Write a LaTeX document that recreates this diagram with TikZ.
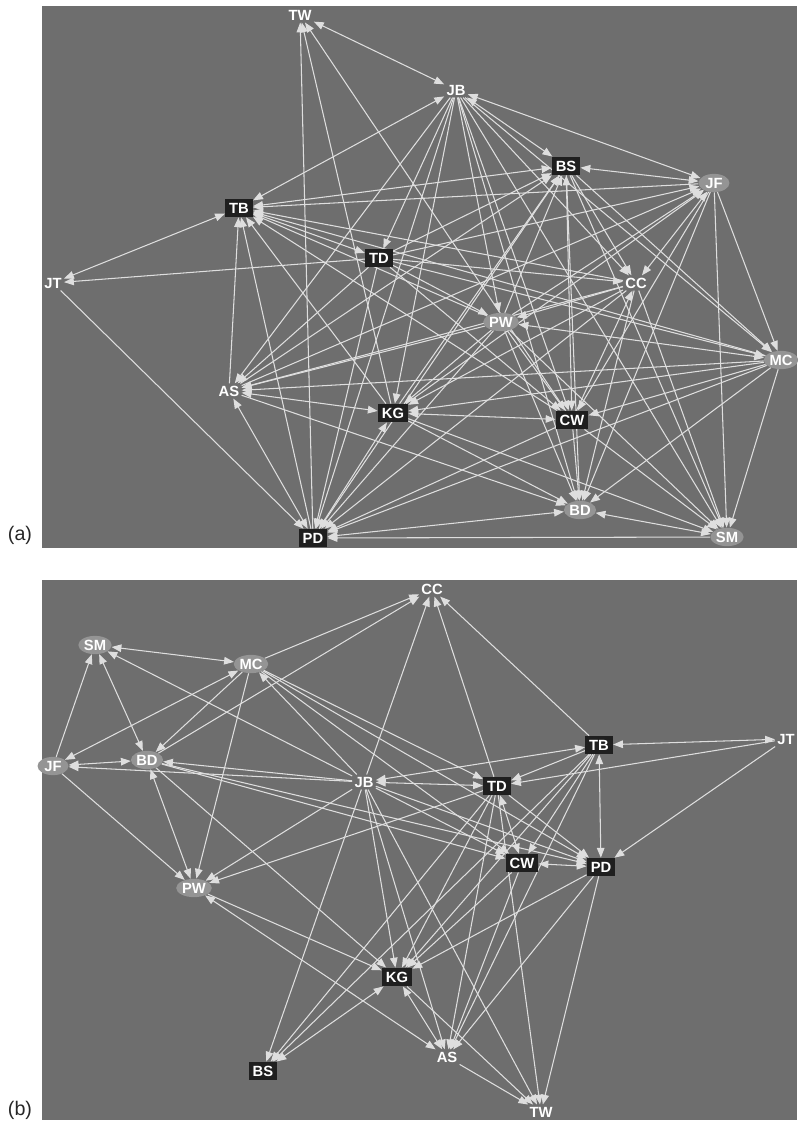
\documentclass[tikz,border=0pt]{standalone}
\usepackage{fontspec}
\setsansfont{Liberation Sans}
\usetikzlibrary{arrows.meta,shapes.geometric}
\pgfdeclarelayer{back}
\pgfdeclarelayer{edges}
\pgfsetlayers{back,edges,main}

\begin{document}
\begin{tikzpicture}[x=0.025cm, y=-0.025cm,
  every node/.style={font=\sffamily\bfseries\fontsize{10.5}{12}\selectfont},
  panel/.style={fill=black!57},
  blackbox/.style={rectangle, fill=black!88, text=white, inner sep=2.8pt},
  greyoval/.style={ellipse, fill=black!42, text=white, inner sep=0.5pt, minimum width=22pt, minimum height=13pt},
  plain/.style={text=white, inner sep=1.5pt},
  link/.style={draw=black!13, line width=0.75pt, >={Triangle[length=7pt,width=5.4pt]}},
  tag/.style={font=\sffamily\fontsize{14}{16}\selectfont, text=black!85}]
				\useasboundingbox (0,0) rectangle (797,1122);
				\begin{pgfonlayer}{back}
					\fill [panel] (42,6) rectangle (797,548);
					\fill [panel] (42,580) rectangle (797,1120);
				\end{pgfonlayer}
				\node (taga) at (20,535) [tag] {(a)};
				\node (tagb) at (20,1110) [tag] {(b)};

				\node (a-tw) at (300,15) [plain] {TW};
				\node (a-jb) at (456,90) [plain] {JB};
				\node (a-bs) at (566,166) [blackbox] {BS};
				\node (a-jf) at (714,183) [greyoval] {JF};
				\node (a-tb) at (239,208) [blackbox] {TB};
				\node (a-td) at (379,258) [blackbox] {TD};
				\node (a-jt) at (53,283) [plain] {JT};
				\node (a-cc) at (636,283) [plain] {CC};
				\node (a-pw) at (501,322) [greyoval] {PW};
				\node (a-mc) at (781,360) [greyoval] {MC};
				\node (a-as) at (229,391) [plain] {AS};
				\node (a-kg) at (393,413) [blackbox] {KG};
				\node (a-cw) at (572,420) [blackbox] {CW};
				\node (a-bd) at (580,510) [greyoval] {BD};
				\node (a-sm) at (727,537) [greyoval] {SM};
				\node (a-pd) at (313,538) [blackbox] {PD};

				\node (b-cc) at (432,589) [plain] {CC};
				\node (b-sm) at (95,645) [greyoval] {SM};
				\node (b-mc) at (251,664) [greyoval] {MC};
				\node (b-jf) at (53,766) [greyoval] {JF};
				\node (b-bd) at (147,760) [greyoval] {BD};
				\node (b-tb) at (599,745) [blackbox] {TB};
				\node (b-jt) at (786,739) [plain] {JT};
				\node (b-jb) at (364,782) [plain] {JB};
				\node (b-td) at (497,786) [blackbox] {TD};
				\node (b-cw) at (522,863) [blackbox] {CW};
				\node (b-pd) at (601,867) [blackbox] {PD};
				\node (b-pw) at (194,888) [greyoval] {PW};
				\node (b-kg) at (397,977) [blackbox] {KG};
				\node (b-bs) at (263,1071) [blackbox] {BS};
				\node (b-as) at (447,1057) [plain] {AS};
				\node (b-tw) at (541,1112) [plain] {TW};

				\begin{pgfonlayer}{edges}
					\foreach \s/\t in {tw/jb, jb/bs, jb/jf, bs/jf, jb/tb, tb/jt, tb/bs, tb/td, bd/sm, as/kg, kg/cw, pw/mc, bs/cw, cc/jf, bd/pd, kg/pd, as/pd}
						\draw [link, <->] (a-\s) -- (a-\t);
					\foreach \s/\t in {pd/tw, kg/tw, cw/tw, td/jt, jt/pd,
						jb/td, jb/kg, jb/pd, jb/as, jb/cc, jb/cw, jb/bd, jb/sm, jb/pw, jb/mc,
						td/bs, kg/bs, pd/bs, as/bs, pw/bs, bs/cc, bs/sm, bs/bd, bs/mc,
						td/jf, kg/jf, pw/jf, as/jf, jf/mc, jf/sm, jf/bd, jf/cw,
						as/tb, kg/tb, pw/tb, cc/tb, cw/tb, mc/tb, pd/tb, jf/tb,
						td/cc, td/pw, td/mc, td/cw, td/pd, td/as,
						cc/pw, cc/kg, cc/as, cc/bd, cc/sm, cc/pd, cw/cc,
						pw/as, pw/kg, pw/cw, pw/bd, pw/sm, pw/pd,
						mc/cw, mc/bd, mc/sm, mc/kg, mc/pd, mc/as,
						as/bd, kg/bd, kg/sm, cw/bd, cw/sm, cw/pd, sm/pd}
						\draw [link, ->] (a-\s) -- (a-\t);

					\foreach \s/\t in {sm/mc, sm/bd, jf/bd, jf/mc, tb/jt, tb/jb, jb/td, bd/pw, kg/as, pw/as, tb/pd, td/cw, cw/pd, kg/bs}
						\draw [link, <->] (b-\s) -- (b-\t);
					\foreach \s/\t in {jf/sm, jb/sm, mc/cc, bd/cc, jb/cc, td/cc, tb/cc,
						mc/bd, mc/pw, mc/td, mc/cw, mc/pd, jb/mc,
						jb/jf, jf/pw, bd/kg, bd/cw, bd/pd, jb/bd,
						jt/td, jt/pd, tb/td, tb/cw, tb/kg, tb/as, tb/bs,
						jb/pw, jb/kg, jb/bs, jb/as, jb/tw, jb/cw, jb/pd,
						td/pw, td/kg, td/as, td/bs, td/tw, td/pd,
						cw/kg, cw/as, pd/kg, pd/as, pd/tw, pw/kg, kg/tw, as/tw}
						\draw [link, ->] (b-\s) -- (b-\t);
				\end{pgfonlayer}
			\end{tikzpicture}
\end{document}
